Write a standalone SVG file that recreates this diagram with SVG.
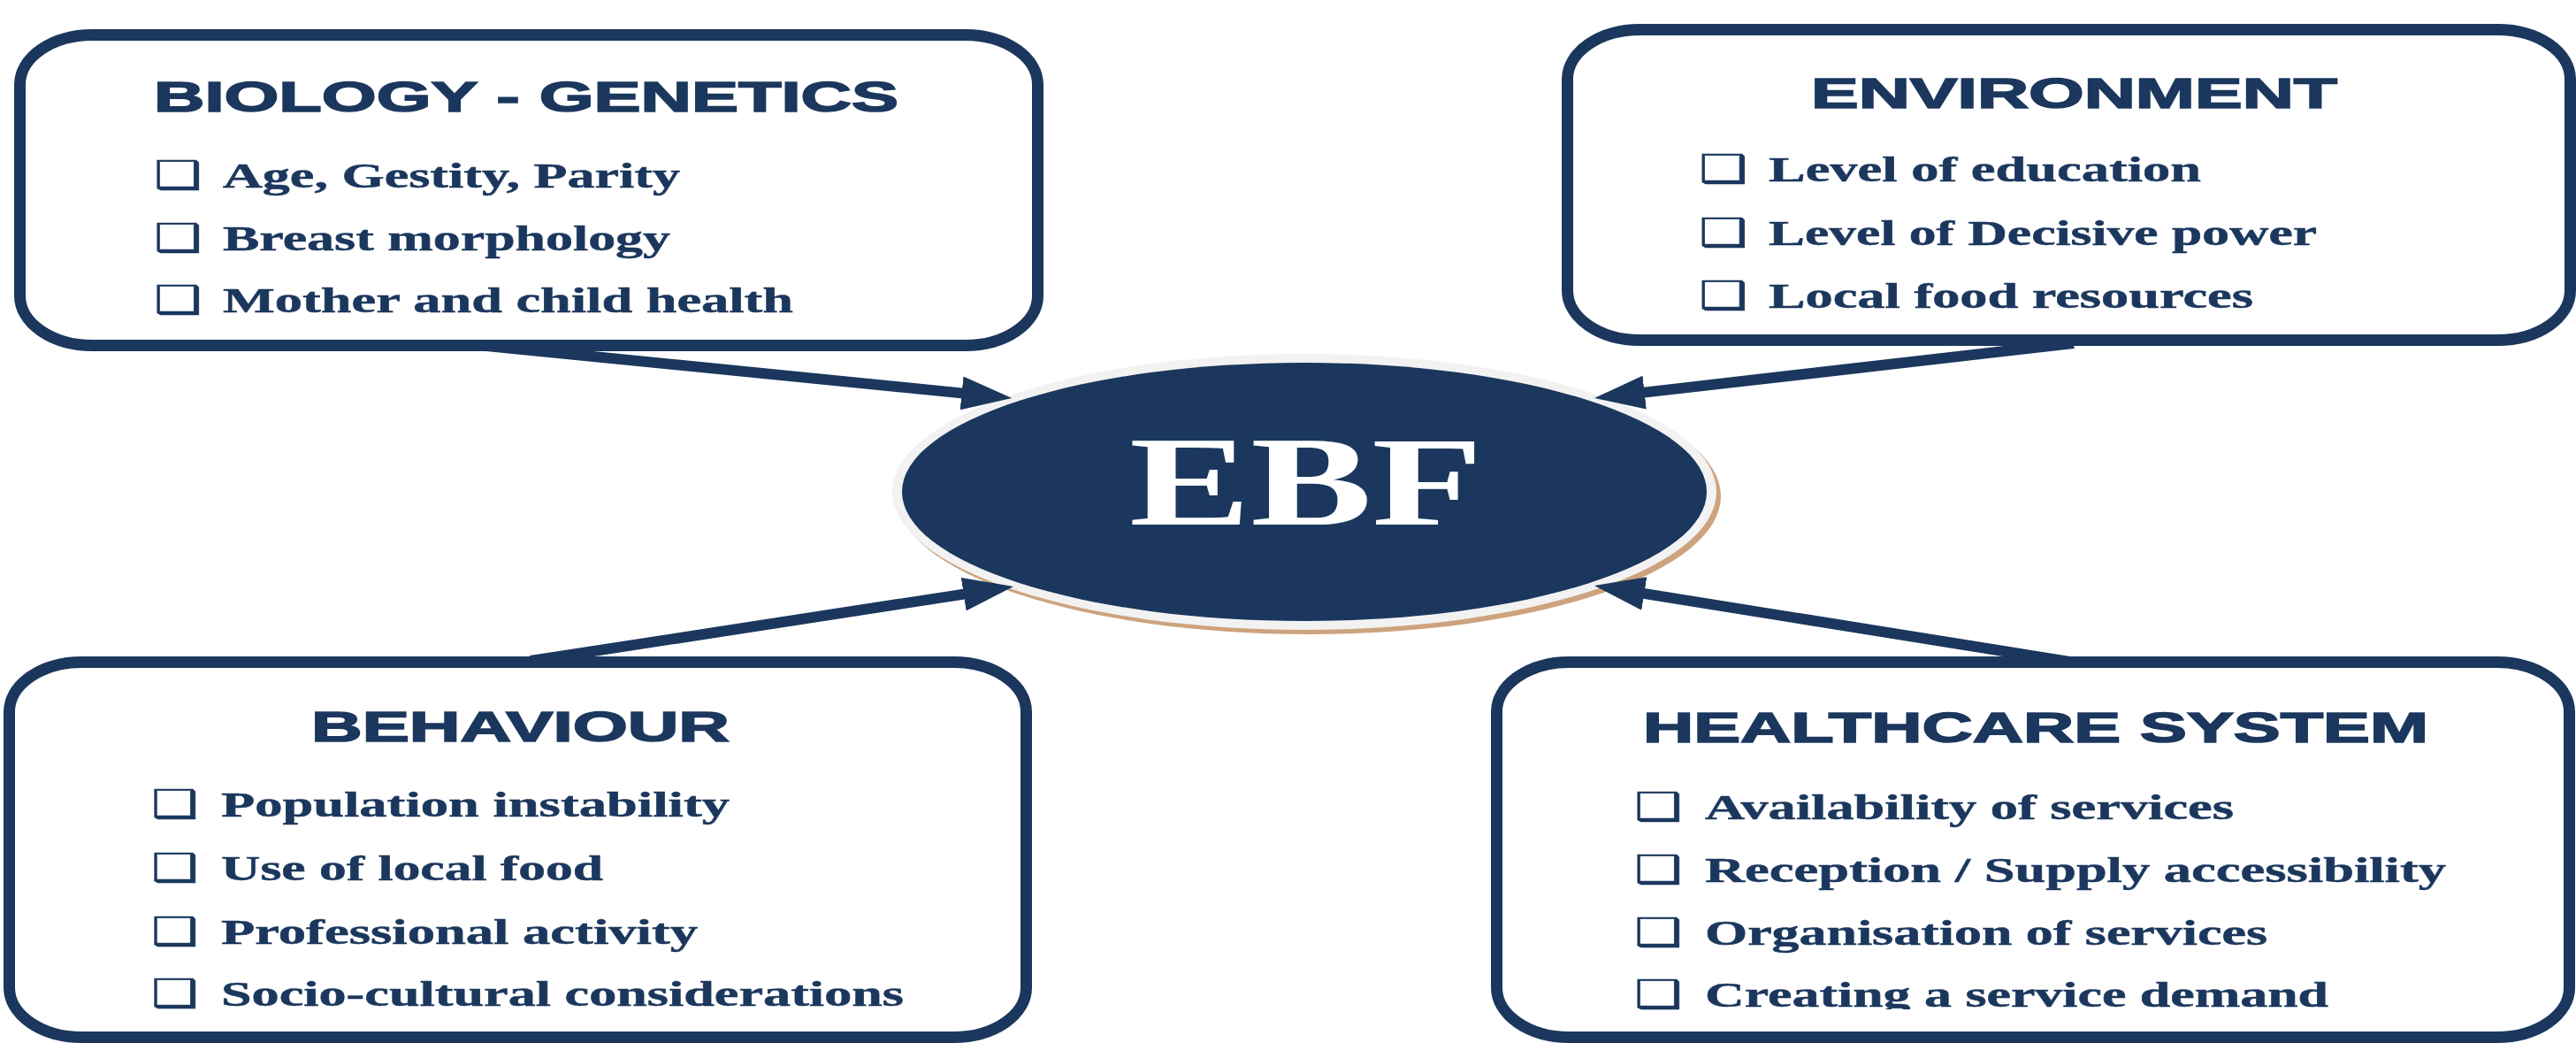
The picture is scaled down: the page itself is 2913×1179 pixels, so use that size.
<svg xmlns="http://www.w3.org/2000/svg" width="2913" height="1179" viewBox="0 0 2913 1179">
  <style>
    .box { fill: #ffffff; stroke: #1b375d; stroke-width: 13; }
    .title { font-family: "Liberation Sans", Arial, sans-serif; font-weight: bold; font-size: 49px; fill: #1b375d; stroke: #1b375d; stroke-width: 1.6px; }
    .item { font-family: "Liberation Serif", "Times New Roman", serif; font-weight: bold; font-size: 39px; fill: #1b375d; stroke: #1b375d; stroke-width: 0.5px; }
    .bullet { font-family: "DejaVu Sans", sans-serif; font-size: 44px; fill: #1b375d; stroke: #1b375d; stroke-width: 0.6px; }
    .shaft { stroke: #1b375d; stroke-width: 12; fill: none; marker-end: url(#head); }
  </style>
  <defs>
    <marker id="head" markerUnits="userSpaceOnUse" viewBox="0 0 57 38" refX="7" refY="19" markerWidth="57" markerHeight="38" orient="auto">
      <path d="M0,0 L57,19 L0,38 Z" fill="#1b375d"/>
    </marker>
    <clipPath id="bottomCut">
      <rect x="0" y="0" width="2913" height="1141"/>
    </clipPath>
  </defs>

  <rect width="2913" height="1179" fill="#ffffff"/>

  <!-- Factor boxes -->
  <g id="biology-genetics">
    <rect class="box" x="22.5" y="39.5" width="1151" height="351" rx="82" ry="56"/>
    <text class="title" x="174" y="126" textLength="842" lengthAdjust="spacingAndGlyphs">BIOLOGY - GENETICS</text>
    <text class="bullet" x="174" y="213" textLength="54" lengthAdjust="spacingAndGlyphs">❑</text>
    <text class="item" x="252" y="212" textLength="517" lengthAdjust="spacingAndGlyphs">Age, Gestity, Parity</text>
    <text class="bullet" x="174" y="284" textLength="54" lengthAdjust="spacingAndGlyphs">❑</text>
    <text class="item" x="252" y="283" textLength="506" lengthAdjust="spacingAndGlyphs">Breast morphology</text>
    <text class="bullet" x="174" y="354" textLength="54" lengthAdjust="spacingAndGlyphs">❑</text>
    <text class="item" x="252" y="353" textLength="645" lengthAdjust="spacingAndGlyphs">Mother and child health</text>
  </g>

  <g id="environment">
    <rect class="box" x="1772.5" y="33.5" width="1134" height="351" rx="82" ry="56"/>
    <text class="title" x="2048" y="122" textLength="595" lengthAdjust="spacingAndGlyphs">ENVIRONMENT</text>
    <text class="bullet" x="1921" y="206" textLength="55" lengthAdjust="spacingAndGlyphs">❑</text>
    <text class="item" x="2000" y="205" textLength="489" lengthAdjust="spacingAndGlyphs">Level of education</text>
    <text class="bullet" x="1921" y="278" textLength="55" lengthAdjust="spacingAndGlyphs">❑</text>
    <text class="item" x="2000" y="277" textLength="620" lengthAdjust="spacingAndGlyphs">Level of Decisive power</text>
    <text class="bullet" x="1921" y="349" textLength="55" lengthAdjust="spacingAndGlyphs">❑</text>
    <text class="item" x="2000" y="348" textLength="548" lengthAdjust="spacingAndGlyphs">Local food resources</text>
  </g>

  <g id="behaviour">
    <rect class="box" x="10.5" y="748.5" width="1150" height="424" rx="82" ry="56"/>
    <text class="title" x="352" y="838" textLength="473" lengthAdjust="spacingAndGlyphs">BEHAVIOUR</text>
    <text class="bullet" x="171" y="924" textLength="53" lengthAdjust="spacingAndGlyphs">❑</text>
    <text class="item" x="250" y="923" textLength="575" lengthAdjust="spacingAndGlyphs">Population instability</text>
    <text class="bullet" x="171" y="996" textLength="53" lengthAdjust="spacingAndGlyphs">❑</text>
    <text class="item" x="250" y="995" textLength="432" lengthAdjust="spacingAndGlyphs">Use of local food</text>
    <text class="bullet" x="171" y="1068" textLength="53" lengthAdjust="spacingAndGlyphs">❑</text>
    <text class="item" x="250" y="1067" textLength="539" lengthAdjust="spacingAndGlyphs">Professional activity</text>
    <text class="bullet" x="171" y="1138" textLength="53" lengthAdjust="spacingAndGlyphs">❑</text>
    <text class="item" x="250" y="1137" textLength="772" lengthAdjust="spacingAndGlyphs">Socio-cultural considerations</text>
  </g>

  <g id="healthcare-system">
    <rect class="box" x="1692.5" y="748.5" width="1213" height="424" rx="82" ry="56"/>
    <text class="title" x="1858" y="839" textLength="888" lengthAdjust="spacingAndGlyphs">HEALTHCARE SYSTEM</text>
    <text class="bullet" x="1848" y="927" textLength="54" lengthAdjust="spacingAndGlyphs">❑</text>
    <text class="item" x="1928" y="926" textLength="598" lengthAdjust="spacingAndGlyphs">Availability of services</text>
    <text class="bullet" x="1848" y="998" textLength="54" lengthAdjust="spacingAndGlyphs">❑</text>
    <text class="item" x="1928" y="997" textLength="838" lengthAdjust="spacingAndGlyphs">Reception / Supply accessibility</text>
    <text class="bullet" x="1848" y="1069" textLength="54" lengthAdjust="spacingAndGlyphs">❑</text>
    <text class="item" x="1928" y="1068" textLength="636" lengthAdjust="spacingAndGlyphs">Organisation of services</text>
    <text class="bullet" x="1848" y="1139" textLength="54" lengthAdjust="spacingAndGlyphs">❑</text>
    <text class="item" x="1928" y="1138" textLength="705" lengthAdjust="spacingAndGlyphs" clip-path="url(#bottomCut)">Creating a service demand</text>
  </g>

  <!-- Central outcome -->
  <g id="ebf">
    <ellipse cx="1480" cy="561" rx="466" ry="156" fill="#cda37e"/>
    <ellipse cx="1475" cy="556" rx="466" ry="156" fill="#f2f2f2"/>
    <ellipse cx="1475" cy="556" rx="455" ry="146" fill="#1b375d"/>
    <text x="1277" y="593" font-family="'Liberation Serif', 'Times New Roman', serif" font-weight="bold" font-size="143" fill="#ffffff" textLength="400" lengthAdjust="spacingAndGlyphs">EBF</text>
  </g>

  <!-- Connectors: each factor points to the centre -->
  <g id="connectors">
    <path class="shaft" d="M550,391 L1094.5,445.1"/>
    <path class="shaft" d="M2345,388 L1852.7,444.4"/>
    <path class="shaft" d="M600,747 L1096.6,670.6"/>
    <path class="shaft" d="M2340,748 L1852.4,669.9"/>
  </g>
</svg>
